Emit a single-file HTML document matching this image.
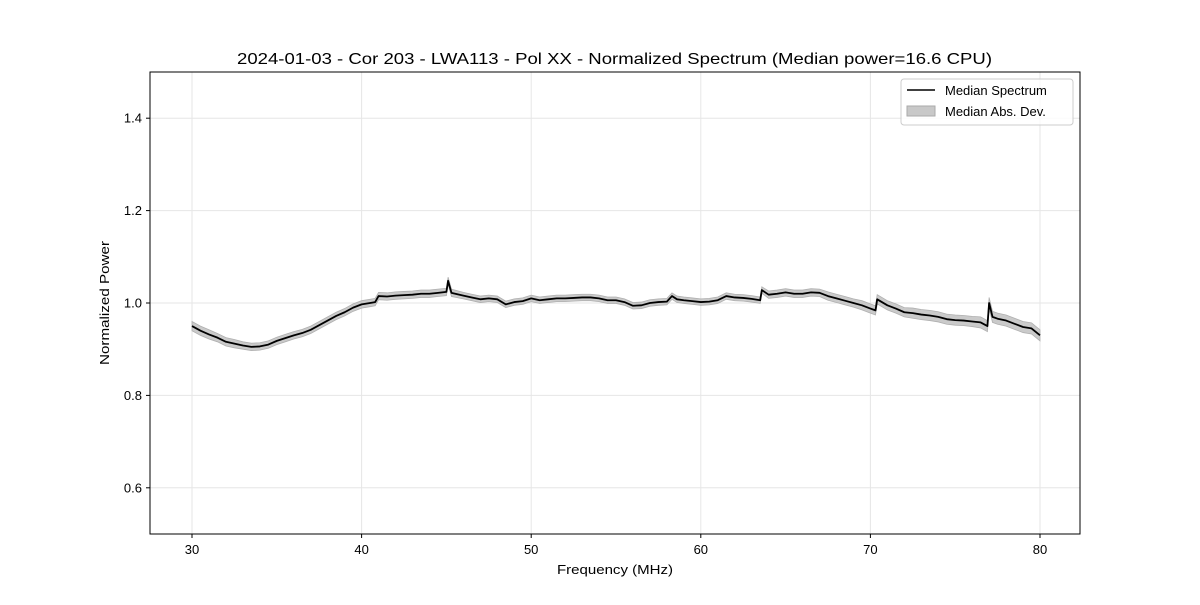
<!DOCTYPE html>
<html><head><meta charset="utf-8"><style>
body{margin:0;background:#fff;font-family:"Liberation Sans",sans-serif}
</style></head><body>
<svg id="chart" width="1200" height="600" xmlns="http://www.w3.org/2000/svg" font-family="Liberation Sans, sans-serif">
<rect width="1200" height="600" fill="#fff"/>
<g id="grid"></g>
<g id="band"></g>
<g id="line"></g>
<rect x="150" y="72" width="930" height="462" fill="none" stroke="#000" stroke-width="1"/>
<g id="ticks" font-size="13"></g>
<text x="614.5" y="64" text-anchor="middle" font-size="16" textLength="755" lengthAdjust="spacingAndGlyphs">2024-01-03 - Cor 203 - LWA113 - Pol XX - Normalized Spectrum (Median power=16.6 CPU)</text>
<text x="615" y="574" text-anchor="middle" font-size="13" textLength="116" lengthAdjust="spacingAndGlyphs">Frequency (MHz)</text>
<text x="109" y="303" text-anchor="middle" font-size="13" textLength="124" lengthAdjust="spacingAndGlyphs" transform="rotate(-90 109 303)">Normalized Power</text>
<g>
<rect x="901" y="79" width="172" height="46" rx="3" fill="#fff" fill-opacity="0.8" stroke="#ccc"/>
<line x1="907" y1="90" x2="935" y2="90" stroke="#000" stroke-width="1.5"/>
<text x="945" y="95" font-size="13">Median Spectrum</text>
<rect x="907" y="106" width="28" height="10" fill="#c8c8c8" stroke="#aaa"/>
<text x="945" y="116" font-size="13">Median Abs. Dev.</text>
</g>
</svg>
<script>
const freqs=[30,30.5,31,31.5,32,32.5,33,33.5,34,34.5,35,35.5,36,36.5,37,37.5,38,38.5,39,39.5,40,40.5,40.8,41,41.5,42,42.5,43,43.5,44,44.5,45,45.1,45.3,46,46.5,47,47.5,48,48.5,49,49.5,50,50.5,51,51.5,52,52.5,53,53.5,54,54.5,55,55.5,56,56.5,57,57.5,58,58.3,58.6,59,59.5,60,60.5,61,61.5,62,62.5,63,63.5,63.6,64,64.5,65,65.5,66,66.5,67,67.5,68,68.5,69,69.5,70,70.3,70.4,71,71.5,72,72.5,73,73.5,74,74.5,75,75.5,76,76.5,76.9,77,77.2,77.5,78,78.5,79,79.5,80];
const power=[0.950,0.940,0.932,0.925,0.916,0.912,0.908,0.905,0.906,0.910,0.918,0.924,0.930,0.935,0.942,0.952,0.962,0.972,0.980,0.990,0.997,1.000,1.002,1.015,1.014,1.016,1.017,1.018,1.020,1.020,1.022,1.024,1.048,1.022,1.016,1.012,1.008,1.010,1.008,0.997,1.002,1.004,1.010,1.006,1.008,1.010,1.010,1.011,1.012,1.012,1.010,1.006,1.006,1.002,0.994,0.995,1.000,1.002,1.003,1.015,1.008,1.006,1.004,1.002,1.003,1.006,1.015,1.012,1.011,1.009,1.006,1.028,1.018,1.020,1.023,1.020,1.020,1.023,1.022,1.015,1.010,1.005,1.000,0.995,0.988,0.984,1.008,0.995,0.988,0.980,0.978,0.975,0.973,0.970,0.965,0.963,0.962,0.960,0.958,0.950,1.000,0.970,0.966,0.962,0.955,0.948,0.945,0.930];
const mad=[0.010,0.010,0.010,0.009,0.009,0.009,0.008,0.008,0.008,0.008,0.008,0.008,0.008,0.008,0.008,0.008,0.008,0.008,0.008,0.008,0.008,0.008,0.008,0.008,0.008,0.008,0.008,0.008,0.008,0.008,0.008,0.008,0.008,0.008,0.007,0.007,0.007,0.007,0.007,0.007,0.007,0.007,0.007,0.007,0.007,0.007,0.007,0.007,0.007,0.007,0.007,0.007,0.007,0.007,0.007,0.007,0.007,0.007,0.007,0.007,0.007,0.007,0.007,0.007,0.007,0.007,0.007,0.007,0.007,0.007,0.007,0.007,0.008,0.008,0.008,0.008,0.008,0.008,0.008,0.009,0.009,0.009,0.009,0.010,0.010,0.010,0.010,0.010,0.010,0.010,0.011,0.011,0.011,0.011,0.011,0.011,0.011,0.011,0.012,0.012,0.012,0.012,0.012,0.012,0.012,0.012,0.012,0.012,0.012,0.012];
const xTicks=[30,40,50,60,70,80];
const yTicks=[0.6,0.8,1.0,1.2,1.4];
const NS="http://www.w3.org/2000/svg";
const X=v=>192+(v-30)*(1040-192)/50;
const Y=v=>534-(v-0.5)*462;
function mk(t,a,p){const e=document.createElementNS(NS,t);for(const k in a)e.setAttribute(k,a[k]);p.appendChild(e);return e;}
const grid=document.getElementById('grid'),ticks=document.getElementById('ticks');
xTicks.forEach(v=>{
 const g=mk('line',{x1:X(v),x2:X(v),y1:72,y2:534,stroke:'#e6e6e6'},grid);
 
 
 const t=mk('line',{x1:X(v),x2:X(v),y1:534,y2:538,stroke:'#000'},ticks);
 
 
 const l=mk('text',{x:X(v),y:554,'text-anchor':'middle'},ticks);l.textContent=v;
 
 
});
yTicks.forEach(v=>{
 const g=mk('line',{x1:150,x2:1080,y1:Y(v),y2:Y(v),stroke:'#e6e6e6'},grid);
 
 
 const t=mk('line',{x1:146,x2:150,y1:Y(v),y2:Y(v),stroke:'#000'},ticks);
 
 
 const l=mk('text',{x:142,y:Y(v)+4.5,'text-anchor':'end'},ticks);l.textContent=v.toFixed(1);
 
 
});
let up=freqs.map((f,i)=>X(f)+','+Y(power[i]+mad[i]));
let dn=freqs.map((f,i)=>X(f)+','+Y(power[i]-mad[i])).reverse();
const band=mk('polygon',{points:up.concat(dn).join(' '),fill:'#bdbdbd','fill-opacity':0.8,stroke:'#b0b0b0','stroke-width':0.8},document.getElementById('band'));


const ln=mk('polyline',{points:freqs.map((f,i)=>X(f)+','+Y(power[i])).join(' '),fill:'none',stroke:'#000','stroke-width':1.8,'stroke-linejoin':'round'},document.getElementById('line'));


</script>
</body></html>
